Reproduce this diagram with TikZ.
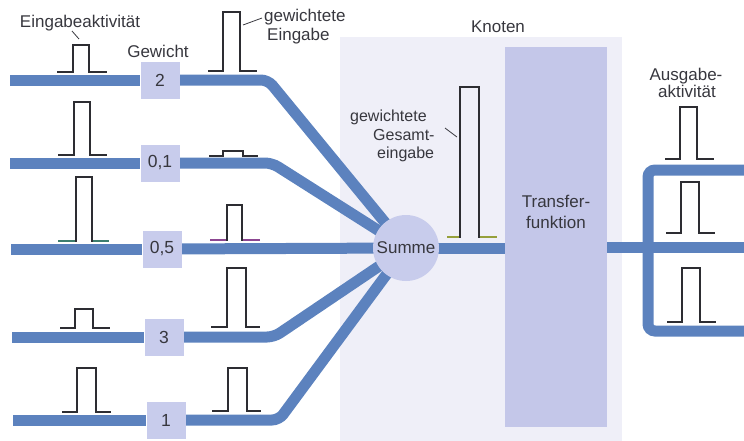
\documentclass[tikz,border=0pt]{standalone}
\usepackage{fontspec}
\setmainfont{Liberation Sans}
\definecolor{wireblue}{RGB}{92,130,190}
\definecolor{boxlav}{RGB}{200,204,236}
\definecolor{knotenbg}{RGB}{239,239,248}
\definecolor{transferlav}{RGB}{196,199,233}
\definecolor{txt}{RGB}{55,55,62}
\definecolor{pulsegray}{RGB}{45,45,50}
\definecolor{tealbase}{RGB}{60,125,110}
\definecolor{purplebase}{RGB}{140,70,145}
\definecolor{olivebase}{RGB}{150,160,60}
\pgfdeclarelayer{bg}
\pgfdeclarelayer{wires}
\pgfsetlayers{bg,wires,main}
\begin{document}
\begin{tikzpicture}[x=1pt,y=-1pt,
  wire/.style={line width=11pt,draw=wireblue},
  bentwire/.style={wire,rounded corners=7pt},
  weightbox/.style={fill=boxlav,minimum width=39pt,minimum height=37pt,inner sep=0pt,
    font=\fontsize{17.5}{19}\selectfont,text=txt},
  sumnode/.style={circle,fill=boxlav,minimum size=66pt,inner sep=0pt,
    font=\fontsize{17}{19}\selectfont,text=txt},
  label/.style={font=\fontsize{17}{19}\selectfont,text=txt,inner sep=0pt},
  smalllabel/.style={font=\fontsize{16}{18}\selectfont,text=txt,inner sep=0pt},
  pulse/.style={line width=1.5pt,draw=pulsegray},
  leader/.style={line width=0.8pt,draw=txt}]
\useasboundingbox (0,0) rectangle (744,440);

% node block in the background
\begin{pgfonlayer}{bg}
  \fill[knotenbg] (340,37) rectangle (622,445);
\end{pgfonlayer}

% weights, summation and transfer function
\node[weightbox] (w1) at (160,80) {2};
\node[weightbox] (w2) at (160,163) {0,1};
\node[weightbox] (w3) at (162,249) {0,5};
\node[weightbox] (w4) at (164,337) {3};
\node[weightbox] (w5) at (166,420) {1};
\node[sumnode] (sum) at (406,248) {Summe};
\node[fill=transferlav,minimum width=102pt,minimum height=380pt,inner sep=0pt]
  (tf) at (556,237) {};
\node[label,align=center] (tflabel) at (556,212) {Transfer-\\[1.5pt]funktion};

% input ends and output ends
\coordinate (in1) at (10,80);
\coordinate (in2) at (10,163);
\coordinate (in3) at (11,249);
\coordinate (in4) at (12,337);
\coordinate (in5) at (13,420);
\coordinate (outTop) at (744,170);
\coordinate (outMid) at (744,247);
\coordinate (outBot) at (744,331);

% connections
\begin{pgfonlayer}{wires}
  \draw[wire] (in1) -- (w1);
  \draw[wire] (in2) -- (w2);
  \draw[wire] (in3) -- (w3);
  \draw[wire] (in4) -- (w4);
  \draw[wire] (in5) -- (w5);
  \draw[bentwire] (w1) -- (268,80) -- (sum.center);
  \draw[bentwire] (w2) -- (272,163) -- (sum.center);
  \draw[wire] (w3) -- (sum.center);
  \draw[bentwire] (w4) -- (274,337) -- (sum.center);
  \draw[bentwire] (w5) -- (279,420) -- (sum.center);
  \draw[wire] (sum.center) -- (sum.center -| tf.west);
  \draw[wire] (outMid -| tf.east) -- (outMid);
  \draw[bentwire] (outTop) -- (648,170) -- (648,331) -- (outBot);
\end{pgfonlayer}

% input activity pulses
\draw[pulse] (57,72) -- (73,72) -- (73,45) -- (89,45) -- (89,72) -- (107,72);
\draw[pulse] (58,155) -- (74,155) -- (74,102) -- (90,102) -- (90,155) -- (107,155);
\draw[pulse] (58,241) -- (76,241) -- (76,177) -- (92,177) -- (92,241) -- (109,241);
\draw[pulse] (60,328) -- (75,328) -- (75,309) -- (93,309) -- (93,328) -- (110,328);
\draw[pulse] (62,412) -- (77,412) -- (77,368) -- (96,368) -- (96,412) -- (111,412);
\draw[pulse,draw=tealbase] (58,241) -- (75.3,241) (92.7,241) -- (109,241);

% weighted input pulses
\draw[pulse] (208,71) -- (223,71) -- (223,12) -- (240,12) -- (240,71) -- (257,71);
\draw[pulse] (209,156) -- (223,156) -- (223,151) -- (243,151) -- (243,156) -- (258,156);
\draw[pulse] (210,240) -- (227,240) -- (227,205) -- (242,205) -- (242,240) -- (260,240);
\draw[pulse] (211,327) -- (227,327) -- (227,268) -- (246,268) -- (246,327) -- (260,327);
\draw[pulse] (212,411) -- (228,411) -- (228,368) -- (247,368) -- (247,411) -- (261,411);
\draw[pulse,draw=purplebase] (210,240) -- (226.3,240) (242.7,240) -- (260,240);

% weighted total input
\draw[pulse] (447,237) -- (460,237) -- (460,87) -- (479,87) -- (479,237) -- (497,237);
\draw[pulse,draw=olivebase] (447,237) -- (459.3,237) (479.7,237) -- (497,237);

% output activity pulses
\draw[pulse] (665,159) -- (680,159) -- (680,107) -- (697,107) -- (697,159) -- (714,159);
\draw[pulse] (666,233) -- (681,233) -- (681,182) -- (699,182) -- (699,233) -- (715,233);
\draw[pulse] (667,322) -- (682,322) -- (682,268) -- (700,268) -- (700,322) -- (716,322);

% labels
\node[label,anchor=base] (lin) at (80,27) {Eingabeaktivität};
\draw[leader] (72,31) -- (79,39);
\node[label,anchor=base] (lw) at (158,57) {Gewicht};
\node[label,anchor=base west] (lwi1) at (264,21) {gewichtete};
\node[label,anchor=base west] (lwi2) at (267,40) {Eingabe};
\draw[leader] (243,25) -- (262,18);
\node[label,anchor=base] (lk) at (498,32) {Knoten};
\node[smalllabel,anchor=base west] (lg1) at (350,121.5) {gewichtete};
\node[smalllabel,anchor=base west] (lg2) at (373,140) {Gesamt-};
\node[smalllabel,anchor=base west] (lg3) at (377,158) {eingabe};
\draw[leader] (445,128) -- (457,137);
\node[label,anchor=base] (lo1) at (686,80) {Ausgabe-};
\node[label,anchor=base] (lo2) at (687,97) {aktivität};
\end{tikzpicture}
\end{document}
